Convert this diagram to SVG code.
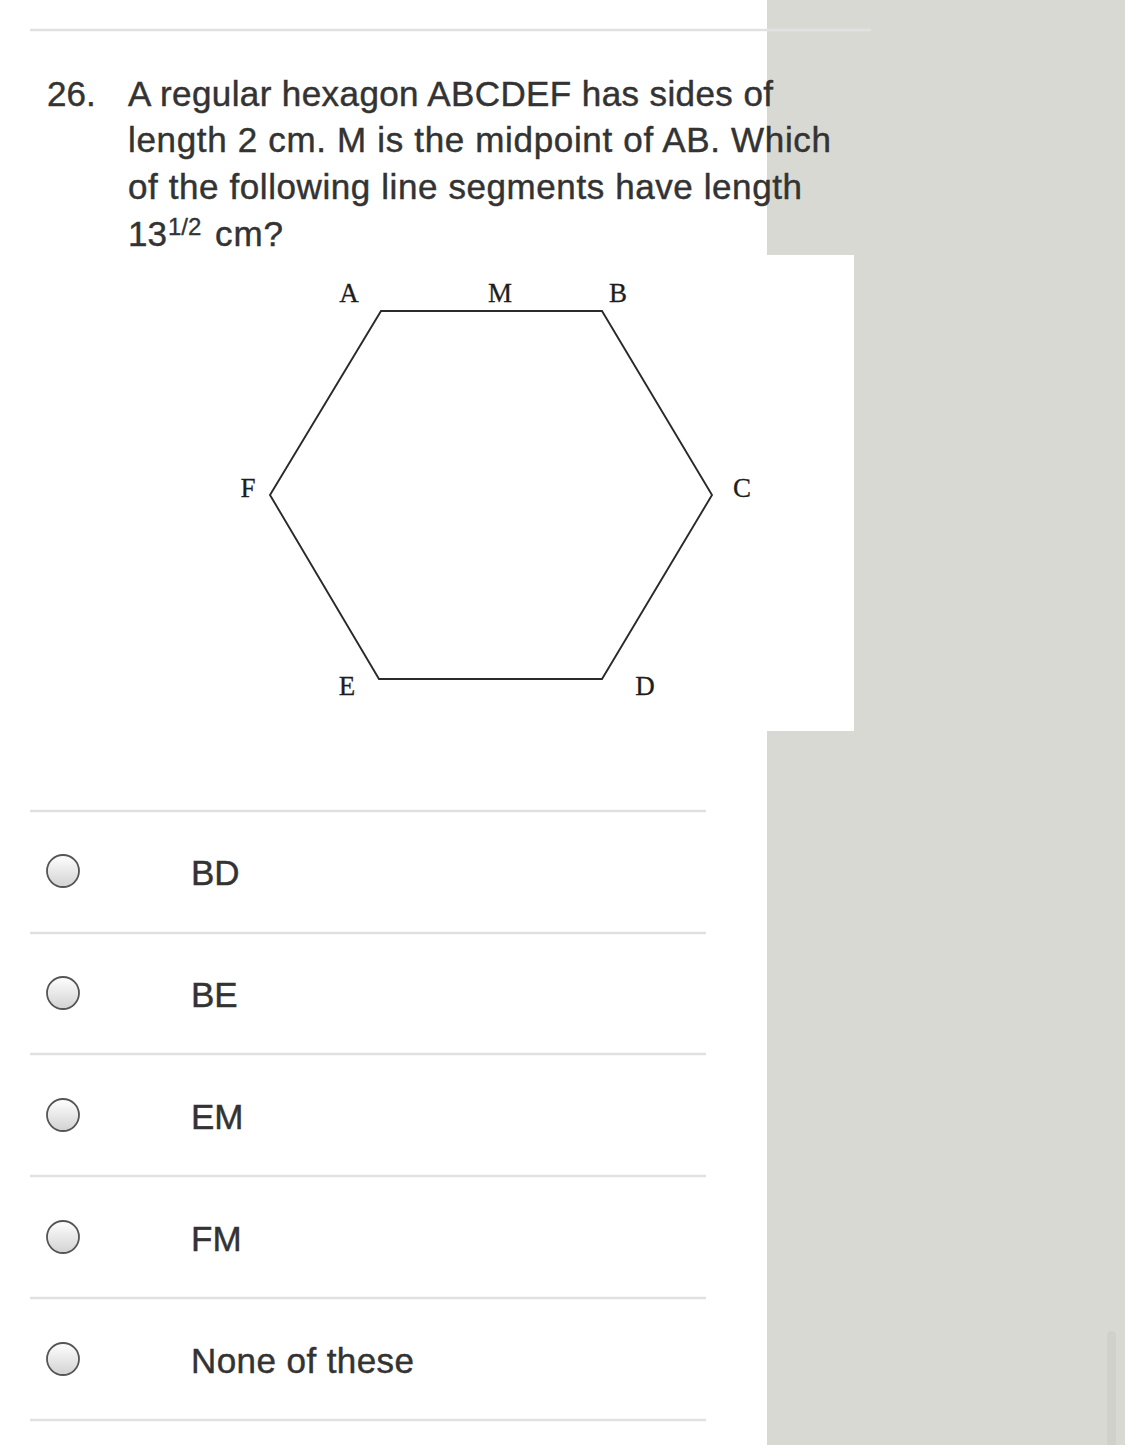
<svg xmlns="http://www.w3.org/2000/svg" width="1125" height="1445" viewBox="0 0 1125 1445">
  <defs>
    <linearGradient id="radioFill" x1="0" y1="0" x2="0" y2="1">
      <stop offset="0" stop-color="#ffffff"/>
      <stop offset="1" stop-color="#d2d2d2"/>
    </linearGradient>
    <style>
      .q { font-family: "Liberation Sans", Arial, sans-serif; font-size: 35px; fill: #333333; stroke: #333333; stroke-width: 0.45; }
      .sup { font-family: "Liberation Sans", Arial, sans-serif; font-size: 24px; fill: #333333; stroke: #333333; stroke-width: 0.35; }
      .opt { font-family: "Liberation Sans", Arial, sans-serif; font-size: 35px; fill: #333333; stroke: #333333; stroke-width: 0.45; }
      .lbl { font-family: "Liberation Serif", "Times New Roman", serif; font-size: 27px; fill: #1e1e1e; stroke: #1e1e1e; stroke-width: 0.3; text-anchor: middle; }
      .sep { stroke: #e1e1e1; stroke-width: 2.5; }
      .radio { fill: url(#radioFill); stroke: #555555; stroke-width: 1.8; }
      .edge { stroke: #2a2a2a; stroke-width: 1.9; fill: none; stroke-linejoin: miter; }
    </style>
  </defs>

  <rect x="0" y="0" width="1125" height="1445" fill="#ffffff"/>
  <rect x="767" y="0" width="358" height="1445" fill="#d9d9d3"/>
  <rect x="1107" y="1331" width="9" height="120" rx="4.5" fill="#d1d1cc"/>

  <line class="sep" x1="30" y1="30" x2="871" y2="30"/>

  <g id="question">
    <text class="q" x="47" y="106">26.</text>
    <text class="q" x="128" y="106" textLength="645" lengthAdjust="spacing">A regular hexagon ABCDEF has sides of</text>
    <text class="q" x="128" y="152" textLength="703" lengthAdjust="spacing">length 2 cm. M is the midpoint of AB. Which</text>
    <text class="q" x="128" y="199" textLength="674" lengthAdjust="spacing">of the following line segments have length</text>
    <text class="q" x="128" y="246">13</text>
    <text class="sup" x="168" y="235">1/2</text>
    <text class="q" x="215" y="246" textLength="68" lengthAdjust="spacing">cm?</text>
  </g>

  <g id="figure">
    <rect x="230" y="255" width="624" height="476" fill="#ffffff"/>
    <g id="connectors">
      <polygon class="edge" points="381,311 602,311 712,495 602,679 379,679 270,495"/>
    </g>
    <g id="vertex-A"><text class="lbl" x="349" y="302">A</text></g>
    <g id="vertex-M"><text class="lbl" x="500" y="302">M</text></g>
    <g id="vertex-B"><text class="lbl" x="618" y="302">B</text></g>
    <g id="vertex-C"><text class="lbl" x="742" y="497">C</text></g>
    <g id="vertex-D"><text class="lbl" x="645" y="695">D</text></g>
    <g id="vertex-E"><text class="lbl" x="347" y="695">E</text></g>
    <g id="vertex-F"><text class="lbl" x="248" y="497">F</text></g>
  </g>

  <g id="options">
    <line class="sep" x1="30" y1="811" x2="706" y2="811"/>
    <g id="option-BD">
      <circle class="radio" cx="63" cy="871" r="16"/>
      <text class="opt" x="191" y="885">BD</text>
    </g>
    <line class="sep" x1="30" y1="933" x2="706" y2="933"/>
    <g id="option-BE">
      <circle class="radio" cx="63" cy="993" r="16"/>
      <text class="opt" x="191" y="1007">BE</text>
    </g>
    <line class="sep" x1="30" y1="1054" x2="706" y2="1054"/>
    <g id="option-EM">
      <circle class="radio" cx="63" cy="1115" r="16"/>
      <text class="opt" x="191" y="1129">EM</text>
    </g>
    <line class="sep" x1="30" y1="1176" x2="706" y2="1176"/>
    <g id="option-FM">
      <circle class="radio" cx="63" cy="1237" r="16"/>
      <text class="opt" x="191" y="1251">FM</text>
    </g>
    <line class="sep" x1="30" y1="1298" x2="706" y2="1298"/>
    <g id="option-none">
      <circle class="radio" cx="63" cy="1359" r="16"/>
      <text class="opt" x="191" y="1373" textLength="223" lengthAdjust="spacing">None of these</text>
    </g>
    <line class="sep" x1="30" y1="1420" x2="706" y2="1420"/>
  </g>
</svg>
